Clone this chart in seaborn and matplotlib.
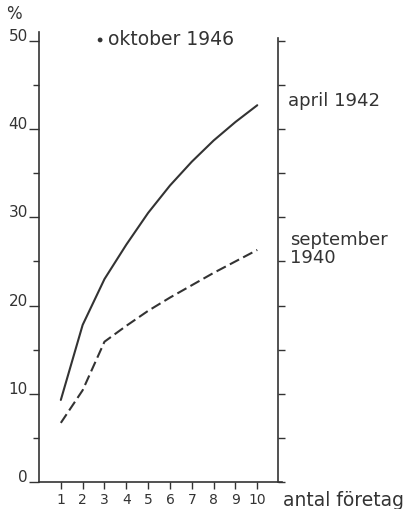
import pandas as pd
import matplotlib
matplotlib.use("Agg")
import matplotlib.pyplot as plt
import seaborn as sns

# antal företag
antal = [1, 2, 3, 4, 5, 6, 7, 8, 9, 10]
# april 1942 (heldragen linje)
april_1942 = [9.3, 17.8, 23.0, 26.9, 30.5, 33.6, 36.3, 38.7, 40.8, 42.7]
# september 1940 (streckad linje)
september_1940 = [6.7, 10.4, 15.9, 17.7, 19.4, 20.9, 22.3, 23.7, 25.0, 26.3]
# oktober 1946 (en punkt)
oktober_1946_x = [2.8]
oktober_1946_y = [50.1]

y_ticks = [0, 10, 20, 30, 40, 50]
y_minor = [5, 15, 25, 35, 45]

sns.set_theme(style="white")
plt.rcParams['font.family'] = ['DejaVu Sans']
ink = '#333333'

df = pd.DataFrame({
    'antal': antal * 2,
    'procent': april_1942 + september_1940,
    'serie': ['april 1942'] * 10 + ['september 1940'] * 10,
})

fig = plt.figure(figsize=(4.06, 5.09), dpi=100)
ax = fig.add_axes([39 / 406, 27 / 509, 239 / 406, 450 / 509])

sns.lineplot(data=df, x='antal', y='procent', style='serie',
             dashes={'april 1942': '', 'september 1940': (5, 2.2)},
             color=ink, linewidth=1.5, legend=False, ax=ax)
sns.scatterplot(x=oktober_1946_x, y=oktober_1946_y, color=ink, s=12,
                edgecolor='none', ax=ax, clip_on=False)

ax.set_xlim(0, 10.95)
ax.set_ylim(0, 51)
ax.set_xlabel('')
ax.set_ylabel('')

ax.spines['top'].set_visible(False)
for s in ['left', 'bottom', 'right']:
    ax.spines[s].set_color(ink)
    ax.spines[s].set_linewidth(1.2)
ax.spines['bottom'].set_bounds(0, 11.15)
ax.spines['right'].set_bounds(0, 50.3)

ax.set_xticks(antal)
ax.set_xticklabels([str(v) for v in antal])
ax.set_yticks(y_ticks)
ax.set_yticks(y_minor, minor=True)
ax.tick_params(axis='x', direction='out', length=5, width=1, colors=ink,
               labelsize=10, pad=3, bottom=True)
ax.tick_params(axis='y', which='major', direction='out', length=7, width=1,
               colors=ink, labelsize=11, pad=1, left=True, right=False)
ax.tick_params(axis='y', which='minor', direction='out', length=4, width=1,
               colors=ink, left=True, right=False)
for lab in ax.get_yticklabels():
    lab.set_verticalalignment('baseline')

# högra axeln: bara streck var 5:e procent
ax2 = ax.twinx()
ax2.set_ylim(0, 51)
ax2.set_yticks(list(range(0, 51, 5)))
ax2.set_yticklabels([])
ax2.tick_params(axis='y', direction='out', length=5, width=1, colors=ink,
                right=True, left=False)
for s in ax2.spines.values():
    s.set_visible(False)
ax2.grid(False)

fig.text(6 / 406, 1 - 14 / 509, '%', fontsize=12, color=ink, va='center')
ax.text(3.15, 50.1, 'oktober 1946', fontsize=13.5, color=ink, va='center',
        clip_on=False)
ax.text(11.4, 43.2, 'april 1942', fontsize=13, color=ink, va='center',
        clip_on=False)
ax.text(11.5, 26.4, 'september\n1940', fontsize=13, color=ink, va='center',
        linespacing=0.95, clip_on=False)
ax.text(11.2, -2.1, 'antal företag', fontsize=13.5, color=ink, va='center',
        clip_on=False)

fig.savefig('out.png', dpi=100, facecolor='white')
